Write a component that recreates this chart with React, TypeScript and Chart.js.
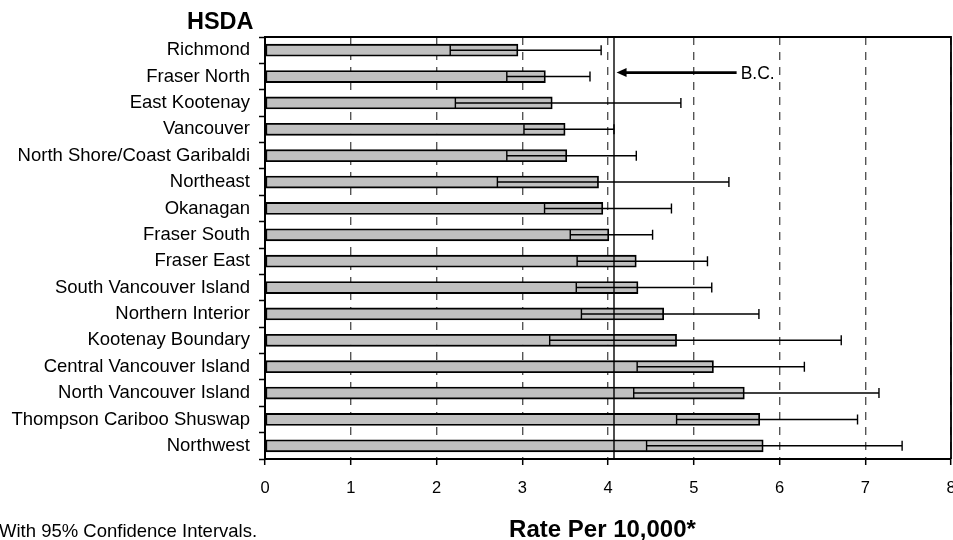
import React, { useEffect, useRef } from "react";
import { Chart, registerables } from "chart.js";

Chart.register(...registerables);

const categories = [
  "Richmond",
  "Fraser North",
  "East Kootenay",
  "Vancouver",
  "North Shore/Coast Garibaldi",
  "Northeast",
  "Okanagan",
  "Fraser South",
  "Fraser East",
  "South Vancouver Island",
  "Northern Interior",
  "Kootenay Boundary",
  "Central Vancouver Island",
  "North Vancouver Island",
  "Thompson Cariboo Shuswap",
  "Northwest",
];

const rates = [2.95, 3.27, 3.35, 3.5, 3.52, 3.89, 3.94, 4.01, 4.33, 4.35, 4.65, 4.8, 5.23, 5.59, 5.77, 5.81];
const lowerCI = [2.16, 2.82, 2.22, 3.02, 2.82, 2.71, 3.26, 3.56, 3.64, 3.63, 3.69, 3.32, 4.34, 4.3, 4.8, 4.45];
const upperCI = [3.92, 3.79, 4.85, 4.07, 4.33, 5.41, 4.74, 4.52, 5.16, 5.21, 5.76, 6.72, 6.29, 7.16, 6.91, 7.43];

const bcRate = 4.07;
const bcArrowFrom = 5.5;
const bcArrowTo = 4.1;
const bcLabel = "B.C.";
const bcRowIndex = 1;

const xTicks = [0, 1, 2, 3, 4, 5, 6, 7, 8];

const yTitle = "HSDA";
const xTitle = "Rate Per 10,000*";
const footnote = "With 95% Confidence Intervals.";

const FONT = "'Liberation Sans', Arial, sans-serif";

const overlayPlugin = {
  id: "overlay",
  afterDatasetsDraw(chart: any) {
    const ctx = chart.ctx;
    const xs = chart.scales.x;
    const ys = chart.scales.y;
    const area = chart.chartArea;
    ctx.save();
    // error bars
    ctx.strokeStyle = "#000";
    ctx.lineWidth = 1.4;
    for (let i = 0; i < categories.length; i++) {
      const y = ys.getPixelForValue(i);
      const xl = xs.getPixelForValue(lowerCI[i]);
      const xu = xs.getPixelForValue(upperCI[i]);
      ctx.beginPath();
      ctx.moveTo(xl, y);
      ctx.lineTo(xu, y);
      ctx.moveTo(xl, y - 5);
      ctx.lineTo(xl, y + 5);
      ctx.moveTo(xu, y - 5);
      ctx.lineTo(xu, y + 5);
      ctx.stroke();
    }
    // B.C. line
    const bx = xs.getPixelForValue(bcRate);
    ctx.lineWidth = 1.4;
    ctx.beginPath();
    ctx.moveTo(bx, area.top);
    ctx.lineTo(bx, area.bottom);
    ctx.stroke();
    // frame
    ctx.lineWidth = 1.8;
    ctx.beginPath();
    ctx.moveTo(area.left, area.top);
    ctx.lineTo(area.right, area.top);
    ctx.lineTo(area.right, area.bottom);
    ctx.stroke();
    // arrow
    const ay = ys.getPixelForValue(bcRowIndex) - 4;
    const ax1 = xs.getPixelForValue(bcArrowFrom);
    const ax2 = xs.getPixelForValue(bcArrowTo);
    ctx.lineWidth = 2.8;
    ctx.beginPath();
    ctx.moveTo(ax1, ay);
    ctx.lineTo(ax2 + 8, ay);
    ctx.stroke();
    ctx.fillStyle = "#000";
    ctx.beginPath();
    ctx.moveTo(ax2, ay);
    ctx.lineTo(ax2 + 10, ay - 4.5);
    ctx.lineTo(ax2 + 10, ay + 4.5);
    ctx.closePath();
    ctx.fill();
    ctx.font = `17.5px ${FONT}`;
    ctx.textAlign = "left";
    ctx.textBaseline = "middle";
    ctx.fillText(bcLabel, ax1 + 4, ay + 1.5);
    ctx.restore();
  },
  afterDraw(chart: any) {
    const ctx = chart.ctx;
    ctx.save();
    ctx.fillStyle = "#000";
    ctx.textBaseline = "alphabetic";
    ctx.font = `bold 23.5px ${FONT}`;
    ctx.textAlign = "right";
    ctx.fillText(yTitle, 253.5, 28.5);
    ctx.font = `bold 24px ${FONT}`;
    ctx.textAlign = "center";
    ctx.fillText(xTitle, 602.5, 536.5);
    ctx.font = `18.5px ${FONT}`;
    ctx.textAlign = "left";
    ctx.fillText(footnote, -1, 536.5);
    ctx.restore();
  },
};

export default function App() {
  const ref = useRef<HTMLCanvasElement | null>(null);
  useEffect(() => {
    if (!ref.current) return;
    const chart = new Chart(ref.current, {
      type: "bar",
      data: {
        labels: categories,
        datasets: [
          {
            data: rates,
            backgroundColor: "#c0c0c0",
            borderColor: "#000",
            borderWidth: 1.8,
            borderSkipped: false,
            barThickness: 12,
          },
        ],
      },
      options: {
        indexAxis: "y",
        responsive: false,
        maintainAspectRatio: false,
        animation: false,
        devicePixelRatio: 1,
        layout: { padding: { top: 37, right: 2, bottom: 0, left: 0 } },
        plugins: { legend: { display: false }, tooltip: { enabled: false }, title: { display: false } },
        scales: {
          x: {
            type: "linear",
            min: 0,
            max: 8,
            afterBuildTicks: (scale: any) => {
              scale.ticks = xTicks.map((v) => ({ value: v }));
            },
            afterFit: (scale: any) => {
              scale.height = 81;
              scale.paddingLeft = 0;
              scale.paddingRight = 0;
            },
            ticks: {
              color: "#000",
              font: { family: FONT, size: 16.5 },
              padding: 14,
              maxRotation: 0,
              autoSkip: false,
            },
            grid: {
              drawOnChartArea: true,
              drawTicks: true,
              tickLength: 6,
              color: "#555",
              lineWidth: 1.4,
              tickColor: "#000",
              tickWidth: 1.5,
              tickBorderDash: [],
            },
            border: { display: true, color: "#000", width: 2, dash: [8, 7] },
          },
          y: {
            type: "category",
            afterFit: (scale: any) => {
              scale.width = 265;
              scale.paddingTop = 0;
              scale.paddingBottom = 0;
            },
            ticks: {
              color: "#000",
              font: { family: FONT, size: 18.5 },
              padding: 9,
              autoSkip: false,
            },
            grid: {
              offset: true,
              drawOnChartArea: false,
              drawTicks: true,
              tickLength: 6,
              tickColor: "#000",
              tickWidth: 1.5,
            },
            border: { display: true, color: "#000", width: 2 },
          },
        },
      },
      plugins: [overlayPlugin],
    } as any);
    return () => chart.destroy();
  }, []);
  return (
    <div style={{ position: "fixed", left: 0, top: 0, width: 953, height: 540, background: "#fff" }}>
      <canvas ref={ref} width={953} height={540} style={{ display: "block" }} />
    </div>
  );
}
